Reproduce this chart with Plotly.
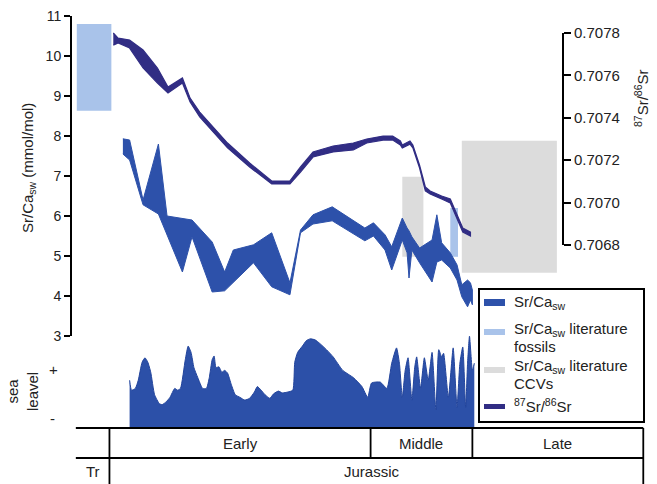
import plotly.graph_objects as go

W, H = 657, 484
FONT = "Liberation Sans, Arial, Helvetica, sans-serif"

# ---------------- data (age in Ma) ----------------
srca_age = [199.9, 199.2, 197.8, 196.2, 195.3, 193.7, 192.7, 190.6, 189.3, 188.4,
            186.3, 184.4, 182.5, 181.4, 180.1, 178.1, 174.7, 173.8, 172.6, 171.9,
            170.8, 170.3, 170.1, 169.8, 169.0, 167.7, 167.2, 166.7, 165.8, 165.1,
            164.6, 164.0, 163.7, 163.5]
srca_upper = [7.93, 7.90, 6.40, 7.80, 6.00, 5.95, 5.90, 5.35, 4.60, 5.15,
              5.28, 5.58, 4.33, 5.65, 6.03, 6.23, 5.70, 5.83, 5.53, 5.23,
              5.95, 5.70, 5.63, 5.48, 5.20, 5.40, 6.03, 5.33, 5.08, 4.78,
              4.28, 4.40, 4.33, 4.15]
srca_lower = [7.55, 7.40, 6.28, 6.05, 5.55, 4.60, 5.48, 4.10, 4.13, 4.35,
              4.83, 4.23, 4.03, 5.58, 5.80, 5.88, 5.38, 5.50, 5.15, 4.65,
              5.40, 5.08, 4.45, 5.15, 4.83, 4.35, 4.85, 4.90, 4.70, 4.40,
              3.98, 3.73, 3.90, 3.78]

sr87_age = [200.9, 200.4, 199.2, 197.8, 196.3, 195.2, 193.7, 192.9, 191.9, 189.0,
            186.7, 184.4, 182.5, 181.4, 180.1, 178.0, 175.9, 174.5, 172.8, 171.8,
            171.0, 170.8, 170.0, 169.7, 169.0, 168.4, 167.9, 166.7, 165.8, 165.1,
            164.5, 163.7]
sr87_upper = [0.707800, 0.707776, 0.707767, 0.707720, 0.707635, 0.707545, 0.707588, 0.707493, 0.707427, 0.707281,
              0.707187, 0.707102, 0.707102, 0.707168, 0.707239, 0.707267, 0.707281, 0.707300, 0.707314, 0.707314,
              0.707291, 0.707272, 0.707291, 0.707272, 0.707177, 0.707074, 0.707055, 0.707031, 0.707017, 0.706942,
              0.706880, 0.706861]
sr87_lower = [0.707743, 0.707753, 0.707729, 0.707635, 0.707564, 0.707517, 0.707564, 0.707475, 0.707404, 0.707258,
              0.707168, 0.707088, 0.707088, 0.707144, 0.707215, 0.707239, 0.707248, 0.707281, 0.707295, 0.707295,
              0.707272, 0.707258, 0.707276, 0.707258, 0.707163, 0.707055, 0.707041, 0.707017, 0.706998, 0.706927,
              0.706861, 0.706842]

# literature boxes: [old age, young age, low Sr/Ca, high Sr/Ca]
fossil_old = [204.7, 165.8]
fossil_young = [201.1, 165.0]
fossil_low = [8.63, 4.98]
fossil_high = [10.80, 6.20]
ccv_old = [170.8, 164.6]
ccv_young = [168.6, 154.7]
ccv_low = [4.98, 4.58]
ccv_high = [6.98, 7.88]

sea_age = [199.2, 199.0, 198.6, 198.3, 197.9, 197.6, 197.3, 197.0, 196.6, 196.1,
           195.8, 195.4, 195.0, 194.5, 194.2, 193.9, 193.4, 193.1, 192.8, 192.5,
           192.1, 191.6, 191.2, 190.9, 190.6, 190.4, 190.2, 189.9, 189.6, 189.3,
           189.0, 188.6, 188.2, 187.7, 187.2, 186.7, 186.2, 185.9, 185.5, 185.1,
           184.6, 184.2, 183.7, 183.3, 182.7, 182.2, 182.0, 181.7, 181.2, 180.8,
           180.4, 179.9, 179.4, 178.7, 178.0, 177.0, 175.9, 175.0, 174.4, 174.0,
           173.1, 172.4, 171.9, 171.4, 171.1, 170.8, 170.5, 170.2, 169.8, 169.5,
           169.3, 168.9, 168.5, 168.1, 167.7, 167.3, 167.0, 166.7, 166.5, 166.0,
           165.5, 165.1, 164.8, 164.5, 164.2, 164.0, 163.8, 163.5, 163.3]
sea_level = [5.3, 4.2, 4.4, 5.3, 7.3, 7.8, 7.3, 6.2, 3.7, 2.7,
             2.6, 2.9, 3.4, 4.4, 4.2, 4.4, 7.6, 9.1, 8.4, 6.7,
             5.6, 4.4, 4.4, 5.6, 7.6, 8.0, 6.7, 6.8, 6.2, 6.4,
             6.1, 4.8, 3.7, 3.4, 3.1, 3.3, 4.0, 4.6, 4.2, 3.7,
             3.3, 3.8, 4.1, 3.9, 4.0, 4.2, 7.3, 8.4, 9.1, 9.7,
             9.9, 9.8, 9.4, 8.7, 7.9, 6.4, 5.6, 4.6, 3.4, 5.0,
             5.1, 4.4, 7.2, 8.9, 7.2, 3.4, 6.4, 7.8, 3.1, 6.8,
             7.9, 4.4, 7.8, 5.3, 8.4, 2.0, 8.7, 7.9, 8.3, 3.4,
             8.9, 2.3, 7.2, 9.0, 2.3, 7.2, 10.2, 6.4, 7.2]

left_ticks = [3, 4, 5, 6, 7, 8, 9, 10, 11]
right_ticks = [0.7068, 0.7070, 0.7072, 0.7074, 0.7076, 0.7078]
right_ticktext = ["0.7068", "0.7070", "0.7072", "0.7074", "0.7076", "0.7078"]

stage_edges = [204.8, 201.3, 174.1, 163.5, 145.7]
epoch_names = ["Early", "Middle", "Late"]
period_names = ["Tr", "Jurassic"]

# ---------------- colours ----------------
C_SRCA = "#2d51aa"
C_SR87 = "#312d84"
C_FOSSIL = "#a9c3ea"
C_CCV = "#dcdcdc"
C_SEA = "#2c50a8"


def px(x):
    return x / W


def py(y):
    return 1 - y / H


fig = go.Figure()

# literature boxes
for o, yg, lo, hi in zip(ccv_old, ccv_young, ccv_low, ccv_high):
    fig.add_trace(go.Scatter(x=[o, yg, yg, o, o], y=[lo, lo, hi, hi, lo], fill="toself",
                             fillcolor=C_CCV, line=dict(width=0), mode="lines",
                             xaxis="x", yaxis="y", hoverinfo="skip"))
for o, yg, lo, hi in zip(fossil_old, fossil_young, fossil_low, fossil_high):
    fig.add_trace(go.Scatter(x=[o, yg, yg, o, o], y=[lo, lo, hi, hi, lo], fill="toself",
                             fillcolor=C_FOSSIL, line=dict(width=0), mode="lines",
                             xaxis="x", yaxis="y", hoverinfo="skip"))

# Sr/Ca band
fig.add_trace(go.Scatter(x=srca_age + srca_age[::-1], y=srca_upper + srca_lower[::-1],
                         fill="toself", fillcolor=C_SRCA, mode="lines",
                         line=dict(color=C_SRCA, width=1), xaxis="x", yaxis="y"))

# 87Sr/86Sr band
fig.add_trace(go.Scatter(x=sr87_age + sr87_age[::-1], y=sr87_upper + sr87_lower[::-1],
                         fill="toself", fillcolor=C_SR87, mode="lines",
                         line=dict(color=C_SR87, width=1.2), xaxis="x", yaxis="y2"))

# sea level
fig.add_trace(go.Scatter(x=sea_age, y=sea_level, fill="tozeroy", fillcolor=C_SEA, mode="lines",
                         line=dict(color="#22449c", width=1, shape="spline", smoothing=0.5),
                         xaxis="x", yaxis="y3"))

shapes = []
# right axis line
shapes.append(dict(type="line", xref="paper", yref="y2", x0=px(563), x1=px(563),
                   y0=right_ticks[0], y1=right_ticks[-1], line=dict(color="black", width=2)))

# geologic time table
tl = dict(color="black", width=1.8)
for yy in (428, 458):
    shapes.append(dict(type="line", xref="x", yref="paper", x0=stage_edges[0], x1=stage_edges[-1],
                       y0=py(yy), y1=py(yy), line=tl))
shapes.append(dict(type="line", xref="x", yref="paper", x0=stage_edges[1], x1=stage_edges[1],
                   y0=py(428), y1=py(484), line=tl))
shapes.append(dict(type="line", xref="x", yref="paper", x0=stage_edges[-1], x1=stage_edges[-1],
                   y0=py(428), y1=py(484), line=tl))
for e in stage_edges[2:4]:
    shapes.append(dict(type="line", xref="x", yref="paper", x0=e, x1=e,
                       y0=py(428), y1=py(458), line=tl))

# legend frame and swatches
shapes.append(dict(type="rect", xref="paper", yref="paper", x0=px(479), x1=px(644),
                   y0=py(422), y1=py(289), line=dict(color="black", width=2), fillcolor="white"))
for (y0, y1), col in zip([(299, 306), (329, 335), (367, 373), (404, 409)],
                         [C_SRCA, C_FOSSIL, C_CCV, C_SR87]):
    shapes.append(dict(type="rect", xref="paper", yref="paper", x0=px(484), x1=px(505),
                       y0=py(y1), y1=py(y0), line=dict(width=0), fillcolor=col))

ann = []


def A(text, x, y, xanchor="center", angle=0, size=15, xref="paper", yref="paper"):
    ann.append(dict(text=text, x=x, y=y, xref=xref, yref=yref, xanchor=xanchor, yanchor="middle",
                    showarrow=False, textangle=angle, font=dict(family=FONT, size=size, color="#222")))


A("Sr/Ca<sub>sw</sub> (mmol/mol)", px(29), py(168), angle=-90)
A("<sup>87</sup>Sr/<sup>86</sup>Sr", px(641), py(98), angle=-90)
A("sea<br>leavel", px(22), py(392), angle=-90)
A("+", px(53), py(369))
A("-", px(52), py(418))

# table labels
A(epoch_names[0], (stage_edges[1] + stage_edges[2]) / 2, py(443), xref="x")
A(epoch_names[1], (stage_edges[2] + stage_edges[3]) / 2, py(443), xref="x")
A(epoch_names[2], (stage_edges[3] + stage_edges[4]) / 2, py(443), xref="x")
A(period_names[0], (stage_edges[0] + stage_edges[1]) / 2, py(471), xref="x")
A(period_names[1], (stage_edges[1] + stage_edges[4]) / 2 + 0.5, py(471), xref="x")

# legend texts
A("Sr/Ca<sub>sw</sub>", px(512), py(302), xanchor="left")
A("Sr/Ca<sub>sw</sub> literature", px(512), py(329), xanchor="left")
A("fossils", px(512), py(346), xanchor="left")
A("Sr/Ca<sub>sw</sub> literature", px(512), py(366), xanchor="left")
A("CCVs", px(512), py(383), xanchor="left")
A("<sup>87</sup>Sr/<sup>86</sup>Sr", px(512), py(405), xanchor="left")

fig.update_layout(
    width=W, height=H, margin=dict(l=0, r=0, t=0, b=0, autoexpand=False),
    paper_bgcolor="white", plot_bgcolor="white", showlegend=False,
    xaxis=dict(domain=[px(72), px(650)], range=[205.2, 145.0], visible=False, anchor="y",
               automargin=False),
    yaxis=dict(domain=[py(336), py(16)], range=[3, 11], tickvals=left_ticks,
               showline=True, linecolor="black", linewidth=2, ticks="outside", ticklen=6,
               tickwidth=2, tickcolor="black", showgrid=False, zeroline=False, automargin=False,
               tickfont=dict(family=FONT, size=14, color="#222"), anchor="x"),
    yaxis2=dict(overlaying="y", side="right", anchor="free", position=px(563),
                range=[0.7063708, 0.7078802], tickvals=right_ticks, ticktext=right_ticktext,
                showline=False, ticks="outside", ticklen=7, tickwidth=2, tickcolor="black",
                showgrid=False, zeroline=False, automargin=False,
                tickfont=dict(family=FONT, size=15, color="#222")),
    yaxis3=dict(domain=[py(428), py(336)], range=[0, 10.22], visible=False, anchor="x",
                automargin=False),
    shapes=shapes, annotations=ann,
)

fig.write_html("out.html", config={"displayModeBar": False},
               post_script="document.body.style.margin='0';document.body.style.padding='0';"
                           "document.body.style.overflow='hidden';")
